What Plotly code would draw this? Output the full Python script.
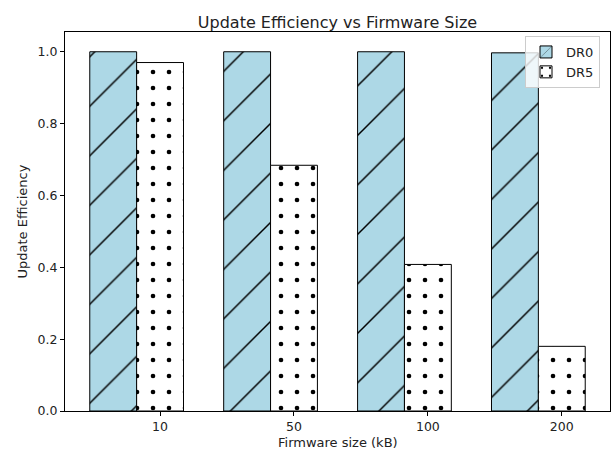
import plotly.graph_objects as go

categories = ["10", "50", "100", "200"]
dr0 = [1.0, 1.0, 1.0, 0.997]
dr5 = [0.970, 0.684, 0.408, 0.180]
bar_w = 0.35

idx = list(range(len(categories)))
x_dr0 = [i for i in idx]
x_dr5 = [i + bar_w for i in idx]

font_fam = "DejaVu Sans, sans-serif"
txt = "#222222"

L, R, T, B = 65, 4, 32, 45
W, H = 614, 456
pw, ph = W - L - R, H - T - B

fig = go.Figure()
fig.add_trace(go.Bar(
    x=x_dr0, y=dr0, width=bar_w, name="DR0",
    marker=dict(color="#add8e6", line=dict(color="black", width=1),
                pattern=dict(shape="/", size=35, solidity=0.042, fgopacity=1,
                             fgcolor="black", bgcolor="#add8e6")),
))
fig.add_trace(go.Bar(
    x=x_dr5, y=dr5, width=bar_w, name="DR5",
    marker=dict(color="white", line=dict(color="black", width=1),
                pattern=dict(shape=".", size=16, solidity=0.065, fgopacity=1,
                             fgcolor="black", bgcolor="white")),
))

fig.update_layout(
    width=W, height=H,
    margin=dict(l=L, r=R, t=T, b=B),
    barmode="overlay",
    plot_bgcolor="white", paper_bgcolor="white",
    font=dict(family=font_fam, size=12, color=txt),
    title=dict(text="Update Efficiency vs Firmware Size", x=(L + pw / 2) / W, xanchor="center",
               y=1 - 22 / H, yanchor="middle", font=dict(size=16, color=txt)),
    legend=dict(x=(525 - L) / pw, y=1 - 4 / ph, xanchor="left", yanchor="top",
                bgcolor="rgba(255,255,255,0.8)", bordercolor="#cccccc", borderwidth=1,
                font=dict(size=13, color=txt), tracegroupgap=2),
    xaxis=dict(range=[-0.36, 3.71], tickvals=x_dr5, ticktext=categories, automargin=False,
               showline=True, linecolor="black", linewidth=1, mirror=True,
               ticks="outside", ticklen=4, tickcolor="black", showgrid=False, zeroline=False,
               tickfont=dict(size=12.5)),
    yaxis=dict(range=[0, 1.055], tickvals=[0, 0.2, 0.4, 0.6, 0.8, 1.0], tickformat=".1f",
               automargin=False,
               showline=True, linecolor="black", linewidth=1, mirror=True,
               ticks="outside", ticklen=4, tickcolor="black", showgrid=False, zeroline=False,
               tickfont=dict(size=12.5)),
    annotations=[
        dict(text="Firmware size (kB)", xref="paper", yref="paper",
             x=0.5, y=-(442 - (T + ph)) / ph, xanchor="center", yanchor="middle",
             showarrow=False, font=dict(size=13, color=txt)),
        dict(text="Update Efficiency", xref="paper", yref="paper", textangle=-90,
             x=-(L - 22) / pw, y=0.5, xanchor="center", yanchor="middle",
             showarrow=False, font=dict(size=13, color=txt)),
    ],
)

fig.write_html("out.html", config={"displayModeBar": False},
               post_script="document.body.style.margin='0px';")
